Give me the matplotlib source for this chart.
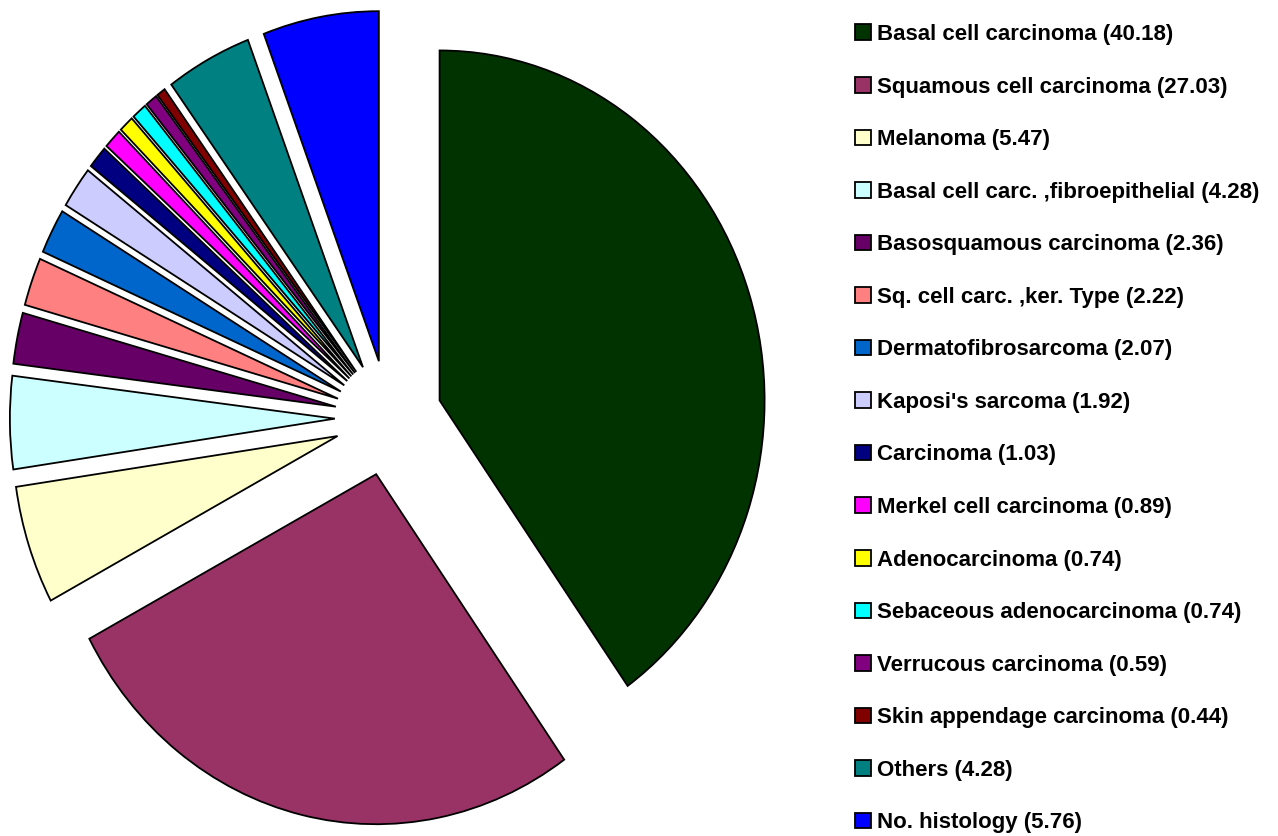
import numpy as np
import matplotlib.pyplot as plt

plt.rcParams['font.family'] = ['Liberation Sans', 'DejaVu Sans']

# Tumour types (percent)
labels = ["Basal cell carcinoma", "Squamous cell carcinoma", "Melanoma",
          "Basal cell carc. ,fibroepithelial", "Basosquamous carcinoma",
          "Sq. cell carc. ,ker. Type", "Dermatofibrosarcoma", "Kaposi's sarcoma",
          "Carcinoma", "Merkel cell carcinoma", "Adenocarcinoma",
          "Sebaceous adenocarcinoma", "Verrucous carcinoma",
          "Skin appendage carcinoma", "Others", "No. histology"]
values = [40.18, 27.03, 5.47, 4.28, 2.36, 2.22, 2.07, 1.92,
          1.03, 0.89, 0.74, 0.74, 0.59, 0.44, 4.28, 5.76]
colors = ["#003300", "#993366", "#FFFFCC", "#CCFFFF", "#660066", "#FF8080",
          "#0066CC", "#CCCCFF", "#000080", "#FF00FF", "#FFFF00", "#00FFFF",
          "#800080", "#800000", "#008080", "#0000FF"]

W, H = 1278, 836
fig = plt.figure(figsize=(W / 100, H / 100), dpi=100)

# pie area (pixels): centre at (388, 418), radius 325 x 350
ax_w = 780
ax = fig.add_axes([0, 0, ax_w / W, 1])
wedges, _ = ax.pie(values, colors=colors, startangle=90, counterclock=False,
                   explode=[0.165] * len(values),
                   wedgeprops=dict(edgecolor="black", linewidth=1.3))
ax.set_aspect("auto")
cx, cy, rx, ry = 388.5, 418, 325, 350
ax.set_xlim(-cx / rx, (ax_w - cx) / rx)
ax.set_ylim(-cy / ry, (H - cy) / ry)
ax.axis("off")

leg_labels = [f"{l} ({v:.2f})" for l, v in zip(labels, values)]
fig.legend(wedges, leg_labels, loc="upper left",
           bbox_to_anchor=(855 / W, 1 - 24 / H),
           frameon=False, prop=dict(weight="bold", size=16),
           handlelength=0.7, handleheight=0.7, handletextpad=0.3,
           labelspacing=1.42, borderpad=0, borderaxespad=0)

plt.savefig("out.png", dpi=100)
